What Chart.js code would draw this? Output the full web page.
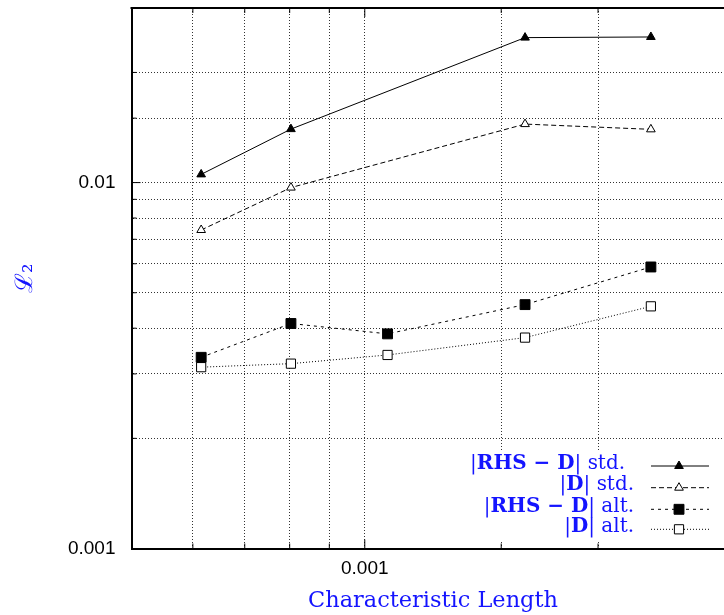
<!DOCTYPE html>
<html>
<head>
<meta charset="utf-8">
<script src="https://cdn.jsdelivr.net/npm/chart.js@4.4.1/dist/chart.umd.min.js"></script>
<style>
html, body { margin: 0; padding: 0; background: #fff; overflow: hidden; }
#wrap { width: 760px; height: 615px; }
</style>
</head>
<body>
<div id="wrap"><canvas id="myChart" width="760" height="615"></canvas></div>
<script>
// characteristic length of each run
const xStd = [0.000615, 0.000803, 0.00161, 0.00234];
const xAlt = [0.000615, 0.000803, 0.00107, 0.00161, 0.00234];

// L2 errors
const rhsStd = [0.01053, 0.0140, 0.0249, 0.0250];
const dStd = [0.00742, 0.00969, 0.01445, 0.01398];
const rhsAlt = [0.00333, 0.00412, 0.00386, 0.00464, 0.00588];
const dAlt = [0.00313, 0.00320, 0.00338, 0.00377, 0.00459];

// labelled ticks
const yTickValues = [0.001, 0.01];
const yTickLabels = ['0.001', '0.01'];
const xTickValues = [0.001];
const xTickLabels = ['0.001'];

// legend text, pieces of [text, bold]
const legendRows = [
    [['|', false], ['RHS \u2212 D', true], ['| std.', false]],
    [['|', false], ['D', true], ['| std.', false]],
    [['|', false], ['RHS \u2212 D', true], ['| alt.', false]],
    [['|', false], ['D', true], ['| alt.', false]]
];

const blue = '#1414ff';
const serif = '"DejaVu Serif", serif';

const pts = (xs, ys) => xs.map((x, i) => ({x: x, y: ys[i]}));

const mctx = document.createElement('canvas').getContext('2d');
function widthOf(pieces, size) {
    let w = 0;
    pieces.forEach(p => {
        mctx.font = (p[1] ? 'bold ' : '') + size + 'px ' + serif;
        w += mctx.measureText(p[0]).width;
    });
    return w;
}
mctx.font = '100px ' + serif;
const xTitleSize = 100 * 250 / mctx.measureText('Characteristic Length').width;
const legendSize = 100 * 155 / widthOf(legendRows[0], 100);

function tickText(values, labels, v) {
    for (let i = 0; i < values.length; i++) {
        if (Math.abs(Math.log10(v) - Math.log10(values[i])) < 1e-6) return labels[i];
    }
    return '';
}
const isDecade = v => Math.abs(Math.log10(v) - Math.round(Math.log10(v))) < 1e-6;

// top border, inner ticks and the key
const frame = {
    id: 'frame',
    afterDraw(chart) {
        const {ctx, chartArea: a, scales: {x, y}} = chart;
        const line = (x1, y1, x2, y2) => { ctx.beginPath(); ctx.moveTo(x1, y1); ctx.lineTo(x2, y2); ctx.stroke(); };
        ctx.save();
        ctx.strokeStyle = '#000';
        ctx.lineWidth = 1;
        y.ticks.forEach(t => {
            const p = y.getPixelForValue(t.value);
            const len = isDecade(t.value) ? 9 : 5;
            line(a.left, p, a.left + len, p);
            line(a.right, p, a.right - len, p);
        });
        x.ticks.forEach(t => {
            const p = x.getPixelForValue(t.value);
            const len = isDecade(t.value) ? 9 : 5;
            line(p, a.bottom, p, a.bottom - len);
            line(p, a.top, p, a.top + len);
        });
        ctx.lineWidth = 2;
        line(a.left - 1, a.top, a.right, a.top);
        line(a.right, a.top, a.right, a.bottom);

        // key
        ctx.fillStyle = '#fff';
        ctx.fillRect(462, 451, 252, 89);
        const rightEdge = [625, 634, 634, 634];
        const rowY = [466, 487.7, 509.3, 529.3];
        chart.data.datasets.forEach((ds, i) => {
            const ly = rowY[i];
            let tx = rightEdge[i] - widthOf(legendRows[i], legendSize);
            ctx.fillStyle = blue;
            ctx.textBaseline = 'alphabetic';
            ctx.textAlign = 'left';
            legendRows[i].forEach(p => {
                ctx.font = (p[1] ? 'bold ' : '') + legendSize + 'px ' + serif;
                ctx.fillText(p[0], tx, ly + 2.5);
                tx += ctx.measureText(p[0]).width;
            });
            ctx.strokeStyle = ds.borderColor;
            ctx.lineWidth = ds.borderWidth;
            ctx.setLineDash(ds.borderDash || []);
            line(651, ly, 709, ly);
            ctx.setLineDash([]);
            ctx.fillStyle = ds.pointBackgroundColor;
            ctx.strokeStyle = ds.pointBorderColor;
            ctx.lineWidth = 1;
            Chart.helpers.drawPoint(ctx, {pointStyle: ds.pointStyle, radius: ds.pointRadius, borderWidth: 1, rotation: 0}, 679, ly);
        });
        ctx.restore();
    }
};

const ctx = document.getElementById('myChart').getContext('2d');
const chart = new Chart(ctx, {
    type: 'scatter',
    data: {
        datasets: [
            {
                label: '|RHS \u2212 D| std.',
                data: pts(xStd, rhsStd),
                showLine: true,
                borderColor: '#000',
                borderWidth: 1,
                borderDash: [],
                pointStyle: 'triangle',
                pointRadius: 5,
                pointBackgroundColor: '#000',
                pointBorderColor: '#000',
                pointBorderWidth: 1
            },
            {
                label: '|D| std.',
                data: pts(xStd, dStd),
                showLine: true,
                borderColor: '#000',
                borderWidth: 1,
                borderDash: [5, 3],
                pointStyle: 'triangle',
                pointRadius: 5,
                pointBackgroundColor: '#fff',
                pointBorderColor: '#000',
                pointBorderWidth: 1
            },
            {
                label: '|RHS \u2212 D| alt.',
                data: pts(xAlt, rhsAlt),
                showLine: true,
                borderColor: '#000',
                borderWidth: 1,
                borderDash: [3, 4],
                pointStyle: 'rect',
                pointRadius: 7,
                pointBackgroundColor: '#000',
                pointBorderColor: '#000',
                pointBorderWidth: 1
            },
            {
                label: '|D| alt.',
                data: pts(xAlt, dAlt),
                showLine: true,
                borderColor: '#000',
                borderWidth: 1,
                borderDash: [1, 2],
                pointStyle: 'rect',
                pointRadius: 6.5,
                pointBackgroundColor: '#fff',
                pointBorderColor: '#000',
                pointBorderWidth: 1
            }
        ]
    },
    options: {
        responsive: false,
        animation: false,
        devicePixelRatio: 1,
        layout: {padding: {left: 0, top: 5, right: 25.5, bottom: 0}},
        plugins: {legend: {display: false}, tooltip: {enabled: false}},
        scales: {
            x: {
                type: 'logarithmic',
                min: 0.0005,
                max: 0.003,
                afterFit: s => { s.height = 66.5; s.paddingLeft = 0; s.paddingRight = 0; },
                grid: {color: 'rgba(0,0,0,0.8)', lineWidth: 1, drawTicks: false},
                border: {display: true, color: '#000', width: 2, dash: [1, 2]},
                ticks: {
                    autoSkip: false,
                    maxRotation: 0,
                    padding: 9,
                    color: '#000',
                    font: {family: '"Liberation Sans", sans-serif', size: 19},
                    callback: v => tickText(xTickValues, xTickLabels, v)
                },
                title: {
                    display: true,
                    text: 'Characteristic Length',
                    color: blue,
                    font: {family: serif, size: xTitleSize},
                    padding: {top: 0, bottom: 0}
                }
            },
            y: {
                type: 'logarithmic',
                min: 0.001,
                max: 0.03,
                afterFit: s => { s.width = 131.5; s.paddingTop = 0; s.paddingBottom = 0; },
                grid: {color: 'rgba(0,0,0,0.8)', lineWidth: 1, drawTicks: false},
                border: {display: true, color: '#000', width: 2, dash: [1, 2]},
                ticks: {
                    autoSkip: false,
                    padding: 16,
                    color: '#000',
                    font: {family: '"Liberation Sans", sans-serif', size: 19},
                    callback: v => tickText(yTickValues, yTickLabels, v)
                },
                title: {
                    display: true,
                    text: '\u2112\u2082',
                    color: blue,
                    font: {family: serif, size: 24},
                    padding: {top: 11, bottom: 0}
                }
            }
        }
    },
    plugins: [frame]
});
</script>
</body>
</html>
